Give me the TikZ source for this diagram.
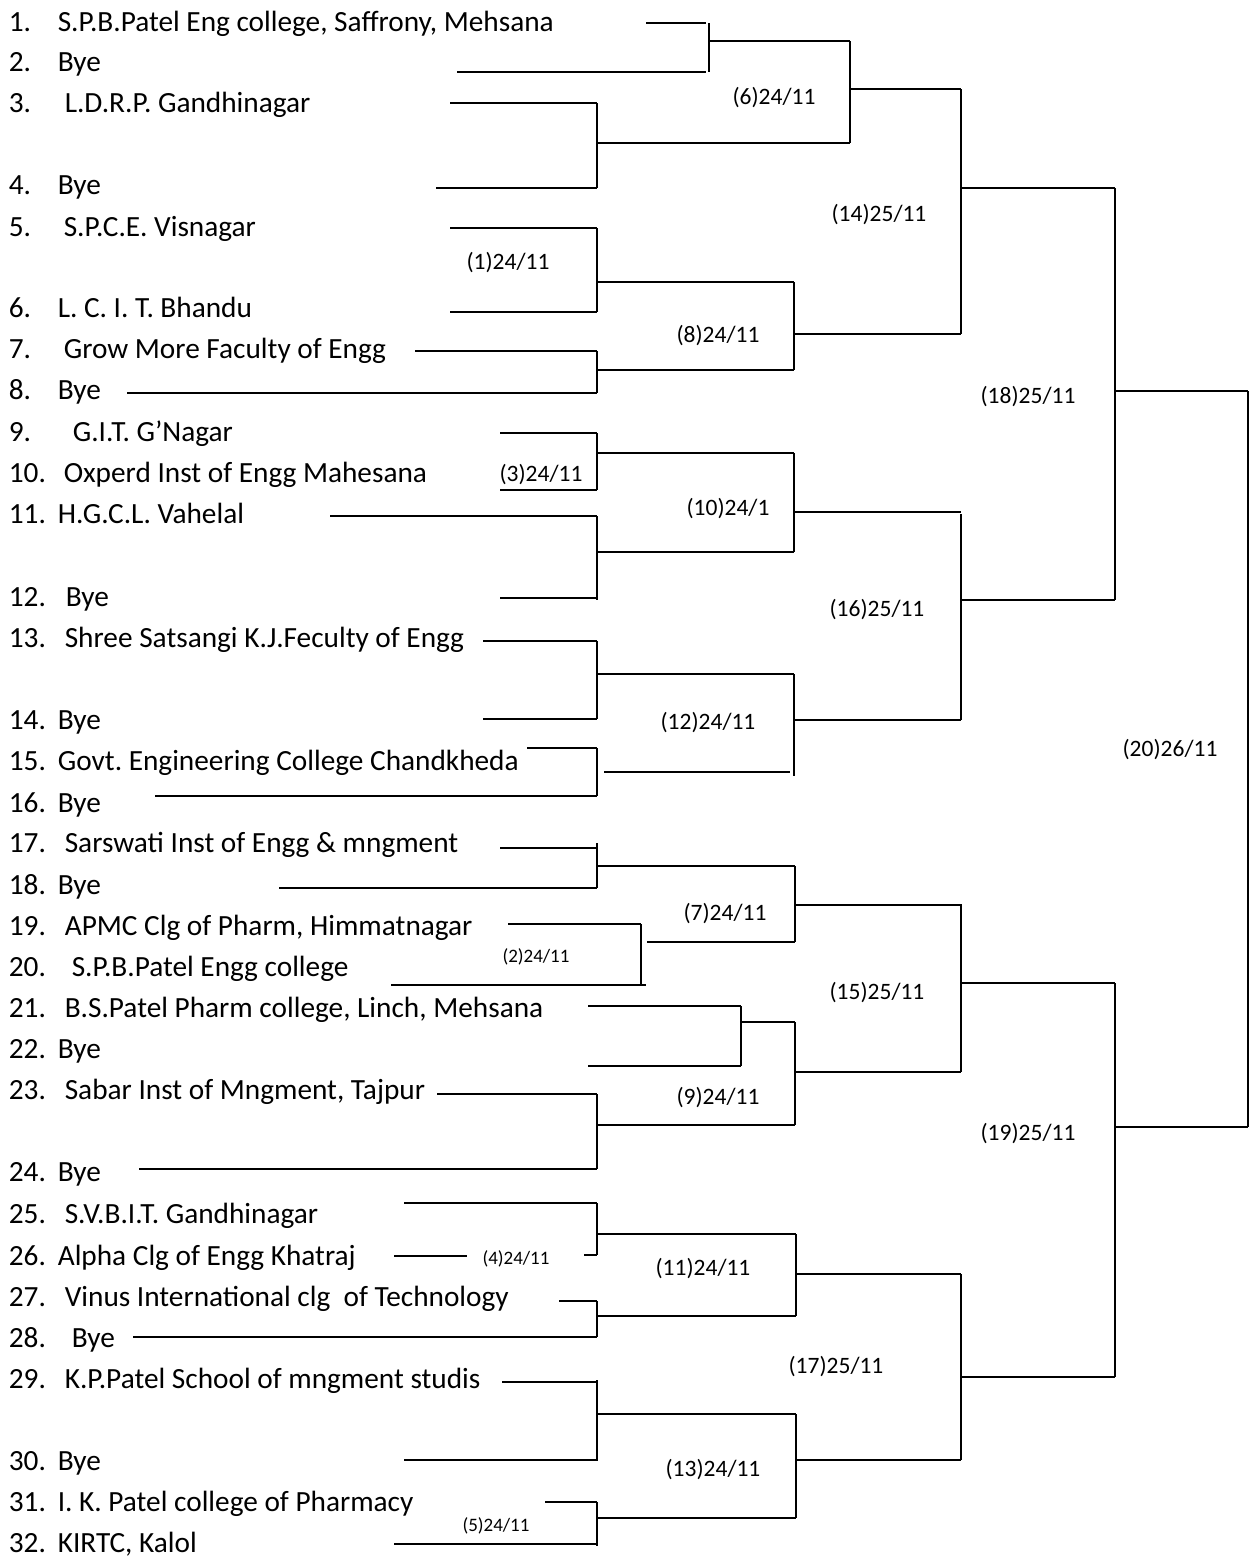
\documentclass[tikz,border=0pt]{standalone}
\usepackage{fontspec}
\setmainfont{Carlito}
\frenchspacing
\begin{document}
\begin{tikzpicture}[x=1pt,y=-1pt,line width=1.6pt,
  ent/.style={anchor=base west,inner sep=0pt,font=\fontsize{29.3}{32}\selectfont},
  lab/.style={anchor=base,inner sep=0pt,font=\fontsize{23.5}{26}\selectfont},
  slab/.style={anchor=base,inner sep=0pt,font=\fontsize{19}{21}\selectfont}]
\useasboundingbox (0,0) rectangle (1251,1558);
\newcommand\entrant[4]{\node[ent] (n#1) at (8,#2) {#1.}; \node[ent] (t#1) at (#3,#2) {#4};}
% entrants
\entrant{1}{31.4}{57}{S.P.B.Patel Eng college, Saffrony, Mehsana}
\entrant{2}{71.4}{57}{Bye}
\entrant{3}{112.4}{64}{L.D.R.P. Gandhinagar}
\entrant{4}{194.4}{57}{Bye}
\entrant{5}{236.4}{63}{S.P.C.E. Visnagar}
\entrant{6}{317.4}{57}{L. C. I. T. Bhandu}
\entrant{7}{358.4}{63}{Grow More Faculty of Engg}
\entrant{8}{399.4}{57}{Bye}
\entrant{9}{441.4}{72}{G.I.T. G’Nagar}
\entrant{10}{482.4}{63}{Oxperd Inst of Engg Mahesana}
\entrant{11}{523.4}{57}{H.G.C.L. Vahelal}
\entrant{12}{606.4}{65}{Bye}
\entrant{13}{647.4}{64}{Shree Satsangi K.J.Feculty of Engg}
\entrant{14}{729.4}{57}{Bye}
\entrant{15}{770.4}{57}{Govt. Engineering College Chandkheda}
\entrant{16}{812.4}{57}{Bye}
\entrant{17}{852.4}{64}{Sarswati Inst of Engg \& mngment}
\entrant{18}{894.4}{57}{Bye}
\entrant{19}{935.4}{64}{APMC Clg of Pharm, Himmatnagar}
\entrant{20}{976.4}{71}{S.P.B.Patel Engg college}
\entrant{21}{1017.4}{64}{B.S.Patel Pharm college, Linch, Mehsana}
\entrant{22}{1058.4}{57}{Bye}
\entrant{23}{1099.4}{64}{Sabar Inst of Mngment, Tajpur}
\entrant{24}{1181.4}{57}{Bye}
\entrant{25}{1223.4}{64}{S.V.B.I.T. Gandhinagar}
\entrant{26}{1265.4}{57}{Alpha Clg of Engg Khatraj}
\entrant{27}{1306.4}{64}{Vinus International clg\ \ of Technology}
\entrant{28}{1347.4}{71}{Bye}
\entrant{29}{1388.4}{64}{K.P.Patel School of mngment studis}
\entrant{30}{1470.4}{57}{Bye}
\entrant{31}{1511.4}{57}{I. K. Patel college of Pharmacy}
\entrant{32}{1552.4}{57}{KIRTC, Kalol}
% match labels
\node[lab] (m6) at (774,104.6) {(6)24/11};
\node[lab] (m1) at (508,269.6) {(1)24/11};
\node[lab] (m14) at (879,221.6) {(14)25/11};
\node[lab] (m8) at (718,342.6) {(8)24/11};
\node[lab] (m18) at (1028,403.6) {(18)25/11};
\node[lab] (m3) at (541,481.6) {(3)24/11};
\node[lab] (m10) at (728,515.6) {(10)24/1};
\node[lab] (m16) at (877,616.6) {(16)25/11};
\node[lab] (m12) at (708,729.6) {(12)24/11};
\node[lab] (m20) at (1170,756.6) {(20)26/11};
\node[lab] (m7) at (725,920.6) {(7)24/11};
\node[slab] (m2) at (536,962.1) {(2)24/11};
\node[lab] (m15) at (877,999.6) {(15)25/11};
\node[lab] (m9) at (718,1104.6) {(9)24/11};
\node[lab] (m19) at (1028,1140.6) {(19)25/11};
\node[slab] (m4) at (516,1264.1) {(4)24/11};
\node[lab] (m11) at (703,1275.6) {(11)24/11};
\node[lab] (m17) at (836,1373.6) {(17)25/11};
\node[lab] (m13) at (713,1476.6) {(13)24/11};
\node[slab] (m5) at (496,1531.1) {(5)24/11};
% ---- top quarter
\draw (646,23)--(706,23); \draw (457,72)--(706,72); \draw (709,23)--(709,72); \draw (709,41)--(850,41);
\draw (450,103)--(597,103); \draw (436,188)--(597,188); \draw (597,103)--(597,188); \draw (597,143)--(850,143);
\draw (850,41)--(850,143); \draw (850,89)--(961,89);
\draw (450,228)--(597,228); \draw (450,312)--(597,312); \draw (597,228)--(597,312); \draw (597,282)--(794,282);
\draw (415,351)--(597,351); \draw (127,393)--(597,393); \draw (597,351)--(597,393); \draw (597,370)--(794,370);
\draw (794,282)--(794,370); \draw (794,334)--(961,334);
\draw (961,89)--(961,334); \draw (961,188)--(1115,188);
% ---- second quarter
\draw (500,433)--(597,433); \draw (500,490)--(597,490); \draw (597,433)--(597,490); \draw (597,453)--(794,453);
\draw (330,516)--(597,516); \draw (500,598)--(597,598); \draw (597,516)--(597,600); \draw (597,552)--(794,552);
\draw (794,453)--(794,552); \draw (794,512)--(961,512);
\draw (483,641)--(597,641); \draw (483,719)--(597,719); \draw (597,641)--(597,719); \draw (597,674)--(794,674);
\draw (527,748)--(597,748); \draw (155,796)--(597,796); \draw (597,748)--(597,796); \draw (604,772)--(790,772);
\draw (794,674)--(794,776); \draw (794,720)--(961,720);
\draw (961,514)--(961,720); \draw (961,600)--(1115,600);
\draw (1115,188)--(1115,600); \draw (1115,391)--(1248,391);
% ---- third quarter
\draw (500,848)--(597,848); \draw (279,888)--(597,888); \draw (597,843)--(597,888); \draw (597,866)--(795,866);
\draw (508,924)--(641,924); \draw (391,985)--(646,985); \draw (641,924)--(641,984); \draw (647,942)--(795,942);
\draw (795,866)--(795,942); \draw (795,905)--(961,905);
\draw (588,1006)--(741,1006); \draw (588,1066)--(741,1066); \draw (741,1006)--(741,1066); \draw (741,1022)--(795,1022);
\draw (437,1094)--(597,1094); \draw (139,1169)--(597,1169); \draw (597,1094)--(597,1169); \draw (597,1125)--(795,1125);
\draw (795,1022)--(795,1125); \draw (795,1072)--(961,1072);
\draw (961,904)--(961,1072); \draw (961,983)--(1115,983);
% ---- bottom quarter
\draw (404,1203)--(597,1203); \draw (394,1256)--(467,1256); \draw (584,1255)--(597,1255); \draw (597,1203)--(597,1255); \draw (597,1234)--(796,1234);
\draw (559,1301)--(597,1301); \draw (133,1337)--(597,1337); \draw (597,1301)--(597,1337); \draw (597,1316)--(796,1316);
\draw (796,1234)--(796,1316); \draw (796,1274)--(961,1274);
\draw (502,1382)--(597,1382); \draw (404,1460)--(597,1460); \draw (597,1380)--(597,1461); \draw (597,1414)--(796,1414);
\draw (545,1502)--(597,1502); \draw (394,1544)--(597,1544); \draw (597,1502)--(597,1546); \draw (597,1518)--(796,1518);
\draw (796,1414)--(796,1518); \draw (796,1460)--(961,1460);
\draw (961,1274)--(961,1460); \draw (961,1377)--(1115,1377);
\draw (1115,983)--(1115,1377); \draw (1115,1127)--(1248,1127);
\draw (1248,391)--(1248,1127);
\end{tikzpicture}
\end{document}
